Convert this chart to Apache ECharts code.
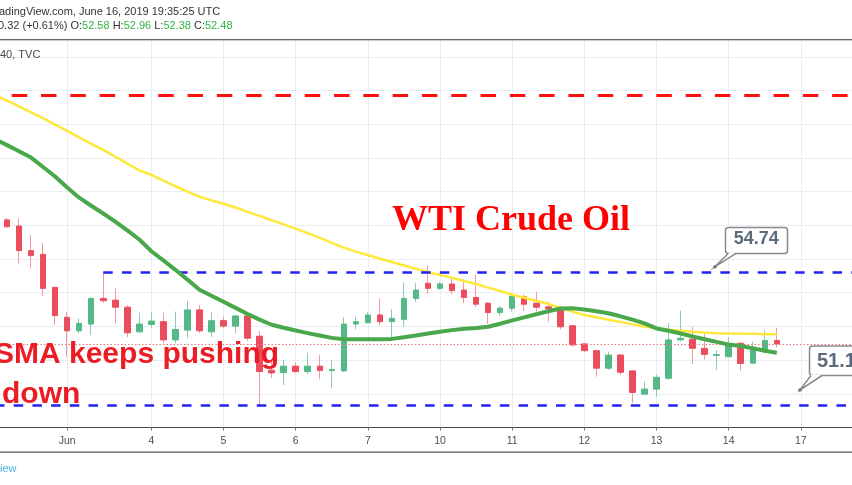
<!DOCTYPE html>
<html>
<head>
<meta charset="utf-8">
<script src="https://cdn.jsdelivr.net/npm/echarts@6/dist/echarts.min.js"></script>
<style>
html,body{margin:0;padding:0;background:#ffffff;}
#c{width:852px;height:485px;}
</style>
</head>
<body>
<div id="c"></div>
<script>
// ---- time axis (H4 bars) ----
const dayLabels  = ['', 'Jun', '4', '5', '6', '7', '10', '11', '12', '13', '14', '17'];
const barsPerDay = [6, 7, 6, 6, 6, 6, 6, 6, 6, 6, 6, 6];

// ---- WTI H4 candles (first drawn bar is the 2nd category) ----
const opens  = [56.16,55.98,55.25,55.14,54.16,53.27,52.87,53.07,53.83,53.78,53.57,52.84,53.06,53.14,52.60,52.89,53.49,52.84,53.17,53.01,53.31,52.71,51.70,51.63,51.82,51.66,51.82,51.69,51.68,53.07,53.11,53.34,53.14,53.21,53.83,54.28,54.13,54.26,54.08,53.86,53.69,53.41,53.54,53.88,53.69,53.58,53.55,53.02,52.48,52.28,51.76,52.15,51.68,50.99,51.14,51.46,52.60,52.62,52.35,52.14,52.10,52.50,51.91,52.25,52.58];
const closes = [55.96,55.25,55.10,54.13,53.32,52.87,53.09,53.83,53.76,53.57,52.81,53.07,53.16,52.60,52.91,53.49,52.87,53.17,53.01,53.31,52.65,51.66,51.62,51.82,51.66,51.82,51.69,51.72,53.07,53.14,53.34,53.14,53.24,53.83,54.08,54.13,54.26,54.06,53.86,53.66,53.41,53.54,53.90,53.66,53.57,53.52,52.99,52.45,52.28,51.76,52.15,51.64,51.04,51.14,51.49,52.60,52.65,52.35,52.17,52.16,52.47,51.90,52.32,52.58,52.48];
const highs  = [56.22,56.21,55.71,55.47,54.18,53.42,53.24,53.85,54.59,54.13,53.63,53.41,53.42,53.41,53.44,53.76,53.63,53.42,53.29,53.34,53.34,52.87,51.95,52.00,51.93,52.22,52.15,52.00,53.27,53.29,53.42,53.83,53.51,54.31,54.28,54.82,54.32,54.47,54.40,54.53,53.72,53.61,53.98,53.95,54.03,53.73,53.61,53.04,52.50,52.28,52.25,52.18,51.70,51.36,51.56,53.09,53.47,52.99,52.84,52.30,52.68,52.53,52.55,52.89,52.96];
const lows   = [55.92,54.87,54.72,53.90,53.04,52.10,52.80,52.74,53.70,53.09,52.68,52.82,52.96,52.50,52.50,52.65,52.80,52.69,52.94,52.80,52.57,50.62,51.47,51.26,51.62,51.59,51.43,51.16,51.65,52.91,53.09,53.04,52.65,52.99,53.72,53.98,54.09,53.96,53.69,53.57,53.07,53.31,53.44,53.46,53.44,53.14,52.91,52.40,52.25,51.51,51.71,51.56,50.72,50.99,50.91,51.42,52.55,51.88,52.02,51.71,52.10,51.69,51.88,52.20,52.38];

// ---- moving averages (start one bar before the first drawn candle) ----
const smaSlow = [59.87,59.70,59.53,59.35,59.18,58.99,58.80,58.61,58.42,58.24,58.04,57.83,57.63,57.50,57.33,57.16,57.00,56.85,56.74,56.64,56.53,56.40,56.28,56.15,56.03,55.90,55.77,55.63,55.48,55.34,55.22,55.12,55.01,54.91,54.81,54.71,54.61,54.53,54.44,54.35,54.26,54.15,54.05,53.94,53.85,53.76,53.67,53.55,53.44,53.34,53.27,53.20,53.13,53.06,53.00,52.94,52.90,52.87,52.84,52.82,52.80,52.79,52.78,52.78,52.77,52.77];
const smaFast = [58.55,58.38,58.20,58.01,57.73,57.45,57.12,56.82,56.58,56.35,56.11,55.85,55.58,55.23,54.96,54.68,54.39,54.09,53.91,53.73,53.55,53.37,53.20,53.05,52.96,52.88,52.80,52.73,52.66,52.62,52.62,52.62,52.62,52.63,52.68,52.73,52.79,52.84,52.89,52.93,52.95,52.99,53.08,53.18,53.27,53.36,53.45,53.53,53.54,53.50,53.45,53.39,53.30,53.20,53.09,52.94,52.87,52.79,52.70,52.62,52.54,52.46,52.42,52.35,52.28,52.22];

// ---- drawn price levels ----
const levelRed      = 59.86;
const levelResist   = 54.61;
const levelSupport  = 50.67;
const resistStartBar = 8;   // candle index where the upper blue line starts
const redStartBar    = 0;
const calloutTop = '54.74';
const calloutBottom = '51.1';

// ---- build category axis ----
const cats = [];
const labelOf = {};
dayLabels.forEach((d, di) => {
  for (let j = 0; j < barsPerDay[di]; j++) {
    const key = di + '-' + j;
    cats.push(key);
    labelOf[key] = (j === 0) ? d : '';
  }
});
const N = cats.length;
const off = 1;
const showTick = (idx, val) => labelOf[val] !== '' && labelOf[val] !== undefined;

const fullCandles = opens.map((o, i) => [i + off, o, closes[i], lows[i], highs[i]]);
const bodyCandles = opens.map((o, i) => [i + off, o, closes[i], Math.min(o, closes[i]), Math.max(o, closes[i])]);
const last = opens.length - 1;
const lastClose = closes[last];

const UP = '#53b987', DOWN = '#eb4d5c';
const UPW = '#93c9b1', DOWNW = '#f29aa2';
const greenTxt = '#2fb344';

const chart = echarts.init(document.getElementById('c'), null, {renderer: 'canvas'});
const option = {
  animation: false,
  backgroundColor: '#ffffff',
  grid: {left: -5, right: -9, top: 40, bottom: 57.5, containLabel: false, outerBoundsMode: 'none'},
  xAxis: {
    type: 'category',
    data: cats,
    boundaryGap: false,
    axisLine: {show: true, lineStyle: {color: '#4a4a4a', width: 1}},
    axisTick: {show: true, length: 3, interval: showTick, lineStyle: {color: '#777'}},
    axisLabel: {
      interval: showTick,
      formatter: (v) => labelOf[v],
      color: '#4d4d4d', fontSize: 10.5, fontFamily: 'Liberation Sans', margin: 8, hideOverlap: false
    },
    splitLine: {show: true, interval: showTick, lineStyle: {color: '#e8eef4', width: 1}}
  },
  yAxis: {
    type: 'value', min: 50, max: 61.5, interval: 1, scale: true,
    axisLine: {show: false}, axisTick: {show: false}, axisLabel: {show: false},
    splitLine: {show: true, lineStyle: {color: '#e8eef4', width: 1}}
  },
  series: [
    {
      type: 'line', data: [], z: 1, silent: true,
      markLine: {
        silent: true, symbol: ['none', 'none'], label: {show: false}, animation: false,
        data: [
          {yAxis: lastClose, lineStyle: {color: '#ef7479', width: 1, type: [1.5, 2]}},
          [{coord: [redStartBar + off, levelRed], lineStyle: {color: '#ff1010', width: 3, type: [15.5, 13.8], dashOffset: 24.6}},
           {coord: [N - 1, levelRed]}],
          [{coord: [resistStartBar + off, levelResist], lineStyle: {color: '#2222f2', width: 2.5, type: [9.5, 9.2]}},
           {coord: [N - 1, levelResist]}],
          {yAxis: levelSupport, lineStyle: {color: '#2222f2', width: 2.5, type: [9.5, 9.2]}}
        ]
      }
    },
    {
      type: 'candlestick', data: fullCandles, encode: {x: 0, y: [1, 2, 3, 4]},
      barWidth: 1, z: 2, silent: true,
      itemStyle: {color: UPW, color0: DOWNW, borderColor: UPW, borderColor0: DOWNW, borderWidth: 1}
    },
    {
      type: 'candlestick', data: bodyCandles, encode: {x: 0, y: [1, 2, 3, 4]},
      barWidth: 6, z: 3, silent: true,
      itemStyle: {color: UP, color0: DOWN, borderColor: UP, borderColor0: DOWN, borderWidth: 1}
    },
    {
      type: 'line', data: smaSlow, symbol: 'none', z: 4, silent: true,
      lineStyle: {color: '#fde83b', width: 2.5}
    },
    {
      type: 'line', data: smaFast, symbol: 'none', z: 5, silent: true,
      lineStyle: {color: '#4aa84c', width: 4}
    }
  ],
  graphic: [
    {type: 'rect', z: 100, shape: {x: 0, y: 39, width: 852, height: 1.3}, style: {fill: '#666'}},
    {type: 'rect', z: 100, shape: {x: 0, y: 451.5, width: 852, height: 1.3}, style: {fill: '#555'}},
    {type: 'text', z: 100, x: -1, y: 11.7, style: {text: 'adingView.com, June 16, 2019 19:35:25 UTC', font: '11px "Liberation Sans"', fill: '#333', align: 'left', verticalAlign: 'middle'}},
    {type: 'text', z: 100, x: -2, y: 26.2, style: {
      text: '{d|0.32 (+0.61%)} {d|O:}{g|' + opens[last].toFixed(2) + '} {d|H:}{g|' + highs[last].toFixed(2) + '} {d|L:}{g|' + lows[last].toFixed(2) + '} {d|C:}{g|' + closes[last].toFixed(2) + '}',
      font: '11px "Liberation Sans"', align: 'left', verticalAlign: 'middle',
      rich: {d: {fill: '#333', font: '11px "Liberation Sans"'}, g: {fill: greenTxt, font: '11px "Liberation Sans"'}}
    }},
    {type: 'text', z: 100, x: 0, y: 54.5, style: {text: '40, TVC', font: '11px "Liberation Sans"', fill: '#4a4a4a', align: 'left', verticalAlign: 'middle'}},
    {type: 'text', z: 100, x: 0, y: 469, style: {text: 'iew', font: '11px "Liberation Sans"', fill: '#4db2e6', align: 'left', verticalAlign: 'middle'}},
    {type: 'text', z: 100, x: 392, y: 220.5, style: {text: 'WTI Crude Oil', font: 'bold 36px "Liberation Serif"', fill: '#ff0000', align: 'left', verticalAlign: 'middle'}},
    {type: 'text', z: 100, x: -6, y: 354.5, style: {text: 'SMA keeps pushing', font: 'bold 30px "Liberation Sans"', fill: '#ec1c24', align: 'left', verticalAlign: 'middle'}},
    {type: 'text', z: 100, x: 2, y: 394.6, style: {text: 'down', font: 'bold 30px "Liberation Sans"', fill: '#ec1c24', align: 'left', verticalAlign: 'middle'}},
    // upper callout
    {type: 'rect', z: 100, shape: {x: 725.5, y: 227.5, width: 62, height: 26, r: 3}, style: {fill: '#fff', stroke: '#8a8a8a', lineWidth: 1.5}},
    {type: 'polygon', z: 101, shape: {points: [[728.5, 252.6], [715, 266.7], [736, 252.6]]}, style: {fill: '#fff'}},
    {type: 'polyline', z: 102, shape: {points: [[728.5, 253.3], [715, 266.7], [736, 253.3]]}, style: {stroke: '#8a8a8a', lineWidth: 1.5, fill: null}},
    {type: 'circle', z: 102, shape: {cx: 715, cy: 266.7, r: 1.8}, style: {fill: '#777'}},
    {type: 'text', z: 103, x: 756.3, y: 239.5, style: {text: calloutTop, font: 'bold 18px "Liberation Sans"', fill: '#5b6b7b', align: 'center', verticalAlign: 'middle'}},
    // lower callout
    {type: 'rect', z: 100, shape: {x: 809.5, y: 346, width: 80, height: 29.5, r: 3}, style: {fill: '#fff', stroke: '#8a8a8a', lineWidth: 1.5}},
    {type: 'polygon', z: 101, shape: {points: [[811, 374.8], [800, 390], [822, 374.8]]}, style: {fill: '#fff'}},
    {type: 'polyline', z: 102, shape: {points: [[811, 375.5], [800, 390], [822, 375.5]]}, style: {stroke: '#8a8a8a', lineWidth: 1.5, fill: null}},
    {type: 'circle', z: 102, shape: {cx: 800, cy: 390, r: 1.8}, style: {fill: '#777'}},
    {type: 'text', z: 103, x: 817, y: 361, style: {text: calloutBottom, font: 'bold 20px "Liberation Sans"', fill: '#5b6b7b', align: 'left', verticalAlign: 'middle'}}
  ]
};
chart.setOption(option);
</script>
</body>
</html>
